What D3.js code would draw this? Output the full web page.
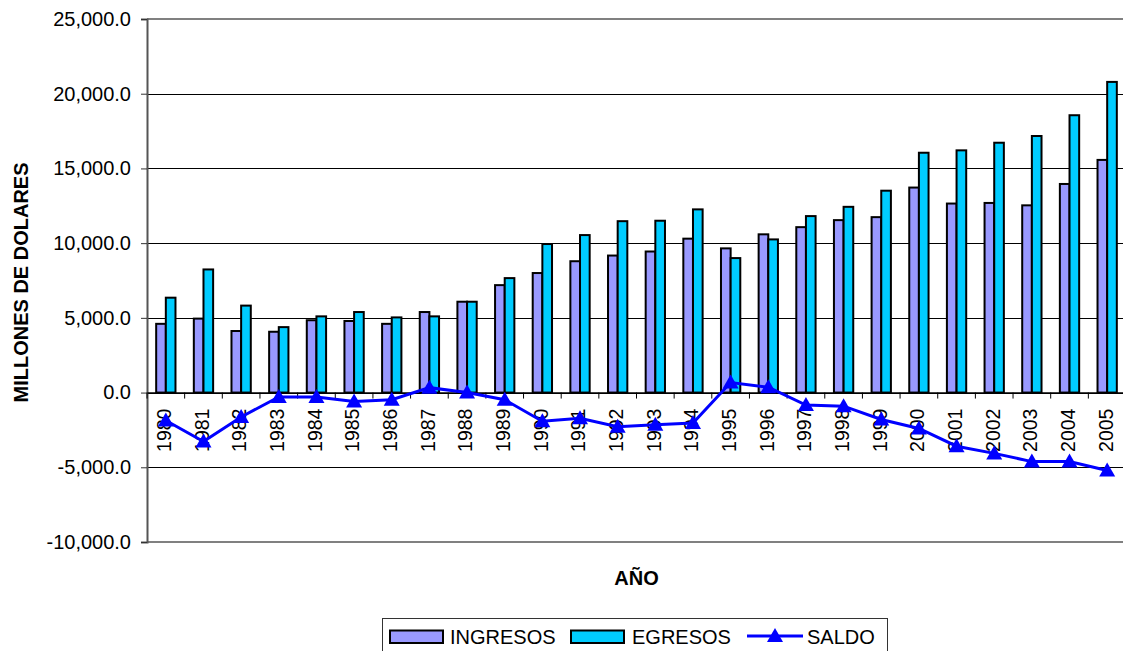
<!DOCTYPE html>
<html>
<head>
<meta charset="utf-8">
<script src="https://cdn.jsdelivr.net/npm/d3@7/dist/d3.min.js"></script>
<style>
  html, body { margin: 0; padding: 0; background: #fff; }
  svg { display: block; font-family: Arial, "Liberation Sans", sans-serif; }
</style>
</head>
<body>
<svg id="chart" width="1123" height="651"></svg>
<script>
const years = ["1980","1981","1982","1983","1984","1985","1986","1987","1988","1989","1990","1991","1992","1993","1994","1995","1996","1997","1998","1999","2000","2001","2002","2003","2004","2005"];
const ingresos = [4600, 4950, 4120, 4070, 4840, 4790, 4600, 5390, 6080, 7190, 8000, 8790, 9170, 9440, 10300, 9650, 10590, 11070, 11540, 11740, 13720, 12650, 12690, 12530, 13960, 15570];
const egresos = [6350, 8240, 5820, 4380, 5100, 5390, 5030, 5100, 6080, 7660, 9940, 10540, 11470, 11500, 12260, 9000, 10250, 11810, 12430, 13510, 16050, 16210, 16720, 17170, 18560, 20790];
const saldo = [-1870, -3280, -1630, -290, -290, -600, -480, 330, 0, -480, -1920, -1720, -2280, -2160, -2040, 670, 360, -840, -910, -1800, -2400, -3590, -4070, -4620, -4620, -5220];
const yTicks = [-10000, -5000, 0, 5000, 10000, 15000, 20000, 25000];
const seriesNames = ["INGRESOS", "EGRESOS", "SALDO"];

(function () {
const svg = d3.select("#chart");
const pLeft = 147, pRight = 1126, pTop = 19, pBottom = 542;

const x = d3.scaleBand().domain(years).range([pLeft, pRight]).paddingInner(0).paddingOuter(0);
const y = d3.scaleLinear().domain([-10000, 25000]).range([pBottom, pTop]);
const x2 = d3.scaleBand().domain(["ing", "egr"]).range([0, x.bandwidth()]).paddingInner(0).paddingOuter(0.95);

const locale = d3.formatLocale({decimal: ".", thousands: ",", grouping: [3], currency: ["$", ""], minus: "-"});
const fmt = locale.format(",.1f");

// gridlines
svg.append("g").selectAll("line").data(yTicks.filter(t => t > -10000 && t < 25000)).join("line")
  .attr("x1", pLeft).attr("x2", 1123)
  .attr("y1", d => Math.round(y(d)) + 0.5).attr("y2", d => Math.round(y(d)) + 0.5)
  .attr("stroke", "#000").attr("stroke-width", 1);

// plot border top/bottom
svg.append("line").attr("x1", pLeft).attr("x2", 1123).attr("y1", y(25000)).attr("y2", y(25000))
  .attr("stroke", "#808080").attr("stroke-width", 2);
svg.append("line").attr("x1", pLeft).attr("x2", 1123).attr("y1", y(-10000)).attr("y2", y(-10000))
  .attr("stroke", "#808080").attr("stroke-width", 2);

// y axis
const yAxis = d3.axisLeft(y).tickValues(yTicks).tickFormat(fmt).tickSize(6).tickPadding(10);
const gy = svg.append("g").attr("transform", `translate(${pLeft},0)`).call(yAxis);
gy.select(".domain").attr("stroke", "#555").attr("stroke-width", 2);
gy.selectAll(".tick line").attr("stroke", "#333");
gy.selectAll(".tick text").attr("font-size", 20).attr("fill", "#000")
  .attr("font-family", "Arial, 'Liberation Sans', sans-serif");

// bars
const groups = svg.append("g").selectAll("g").data(years).join("g")
  .attr("transform", d => `translate(${x(d)},0)`);
groups.append("rect")
  .attr("x", x2("ing")).attr("width", x2.bandwidth())
  .attr("y", (d, i) => y(ingresos[i])).attr("height", (d, i) => y(0) - y(ingresos[i]))
  .attr("fill", "#9999FF").attr("stroke", "#000").attr("stroke-width", 2);
groups.append("rect")
  .attr("x", x2("egr")).attr("width", x2.bandwidth())
  .attr("y", (d, i) => y(egresos[i])).attr("height", (d, i) => y(0) - y(egresos[i]))
  .attr("fill", "#00CCFF").attr("stroke", "#000").attr("stroke-width", 2);

// category axis at zero
const xAxis = d3.axisBottom(x).tickSize(0).tickFormat(d => d);
const gx = svg.append("g").attr("transform", `translate(0,${y(0)})`).call(xAxis);
gx.select(".domain").attr("stroke", "#000").attr("stroke-width", 1.5);
gx.selectAll(".tick text")
  .attr("font-size", 19.5).attr("fill", "#000")
  .attr("font-family", "Arial, 'Liberation Sans', sans-serif")
  .attr("text-anchor", "end")
  .attr("dy", "0.35em")
  .attr("transform", "translate(-1.5,16) rotate(-90)")
  .attr("x", 0).attr("y", 0);
// category boundary ticks
svg.append("g").selectAll("line").data(years).join("line")
  .attr("x1", d => x(d)).attr("x2", d => x(d))
  .attr("y1", y(0)).attr("y2", y(0) + 6)
  .attr("stroke", "#000").attr("stroke-width", 1);

// saldo line
const line = d3.line().x((d, i) => x(years[i]) + x.bandwidth() / 2).y(d => y(d));
svg.append("path").datum(saldo).attr("d", line)
  .attr("fill", "none").attr("stroke", "#0000FF").attr("stroke-width", 3);
const tri = "M0,-8 L8,6 L-8,6 Z";
svg.append("g").selectAll("path").data(saldo).join("path")
  .attr("d", tri)
  .attr("transform", (d, i) => `translate(${x(years[i]) + x.bandwidth() / 2},${y(d)})`)
  .attr("fill", "#0000FF");

// axis titles
svg.append("text").attr("transform", "translate(28,282.5) rotate(-90)")
  .attr("text-anchor", "middle").attr("font-size", 20).attr("font-weight", "bold")
  .text("MILLONES DE DOLARES");
svg.append("text").attr("x", 636.5).attr("y", 585)
  .attr("text-anchor", "middle").attr("font-size", 20).attr("font-weight", "bold")
  .text("AÑO");

// legend
const lg = svg.append("g");
lg.append("rect").attr("x", 382.5).attr("y", 618.5).attr("width", 505).attr("height", 40)
  .attr("fill", "#fff").attr("stroke", "#333").attr("stroke-width", 1);
lg.append("rect").attr("x", 390).attr("y", 630.5).attr("width", 53).attr("height", 12.5)
  .attr("fill", "#9999FF").attr("stroke", "#000").attr("stroke-width", 2);
lg.append("text").attr("x", 450).attr("y", 643.5).attr("font-size", 20).text(seriesNames[0]);
lg.append("rect").attr("x", 571).attr("y", 630.5).attr("width", 53).attr("height", 12.5)
  .attr("fill", "#00CCFF").attr("stroke", "#000").attr("stroke-width", 2);
lg.append("text").attr("x", 632).attr("y", 643.5).attr("font-size", 20).text(seriesNames[1]);
lg.append("line").attr("x1", 747).attr("x2", 803).attr("y1", 636).attr("y2", 636)
  .attr("stroke", "#0000FF").attr("stroke-width", 3);
lg.append("path").attr("d", tri).attr("transform", "translate(775,636)").attr("fill", "#0000FF");
lg.append("text").attr("x", 807).attr("y", 643.5).attr("font-size", 20).text(seriesNames[2]);
})();
</script>
</body>
</html>
